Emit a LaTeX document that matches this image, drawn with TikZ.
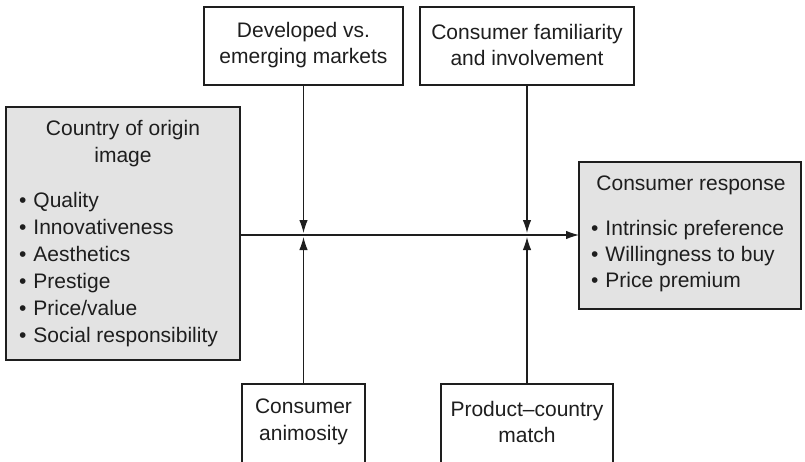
\documentclass[tikz,border=0pt]{standalone}
\usepackage{fontspec}
\setmainfont{Liberation Sans}
\usetikzlibrary{arrows.meta}
\definecolor{boxgray}{HTML}{E3E3E3}
\definecolor{ink}{HTML}{1E1E1E}
\newcommand{\bul}{•\hspace{0.33em}}
\begin{document}
\begin{tikzpicture}[x=1pt,y=-1pt,
  txt/.style={inner sep=0pt, text=ink, font=\fontsize{21}{26.5}\selectfont},
  ctxt/.style={txt, align=center},
  ltxt/.style={txt, align=left, anchor=west},
  wbox/.style={draw=ink, line width=1.2pt, fill=white},
  gbox/.style={draw=ink, line width=1.2pt, fill=boxgray},
  conn/.style={draw=ink, line width=1.1pt, -{Latex[length=13pt,width=8.5pt]}}]
\useasboundingbox (0,0) rectangle (805,461);
\clip (0,0) rectangle (805,461);
% boxes
\path[wbox] (204,7) rectangle (403,85);
\coordinate (devS) at (303.5,85);
\path[wbox] (420,7) rectangle (634,85);
\coordinate (famS) at (527,85);
\path[gbox] (6,107) rectangle (240,360);
\coordinate (coiE) at (240,235);
\path[gbox] (579,162) rectangle (801,309);
\coordinate (crW) at (579,235);
\path[wbox] (242,384) rectangle (365,470);
\coordinate (animN) at (303.5,384);
\path[wbox] (441,384) rectangle (613,470);
\coordinate (pcmN) at (527,384);
% texts
\node[ctxt] (dev) at (303.5,45) {Developed vs.\\emerging markets};
\node[ctxt] (fam) at (527,45) {Consumer familiarity\\and involvement};
\node[ctxt] (coi) at (123,143.5) {Country of origin\\image};
\node[ltxt, font=\fontsize{21}{27}\selectfont] (coil) at (19,269.5) {\bul Quality\\\bul Innovativeness\\\bul Aesthetics\\\bul Prestige\\\bul Price/value\\\bul Social responsibility};
\node[ctxt] (cr) at (691,185) {Consumer response};
\node[ltxt, font=\fontsize{21}{26}\selectfont] (crl) at (591,256) {\bul Intrinsic preference\\\bul Willingness to buy\\\bul Price premium};
\node[ctxt] (anim) at (303.5,422) {Consumer\\animosity};
\node[ctxt] (pcm) at (527,422) {Product–country\\match};
% junction points
\coordinate (j1t) at (303.5,233);
\coordinate (j1b) at (303.5,237);
\coordinate (j2t) at (527,233);
\coordinate (j2b) at (527,237);
% connectors
\draw[conn] (coiE) -- (crW);
\draw[conn] (devS) -- (j1t);
\draw[conn] (famS) -- (j2t);
\draw[conn] (animN) -- (j1b);
\draw[conn] (pcmN) -- (j2b);
\end{tikzpicture}
\end{document}
